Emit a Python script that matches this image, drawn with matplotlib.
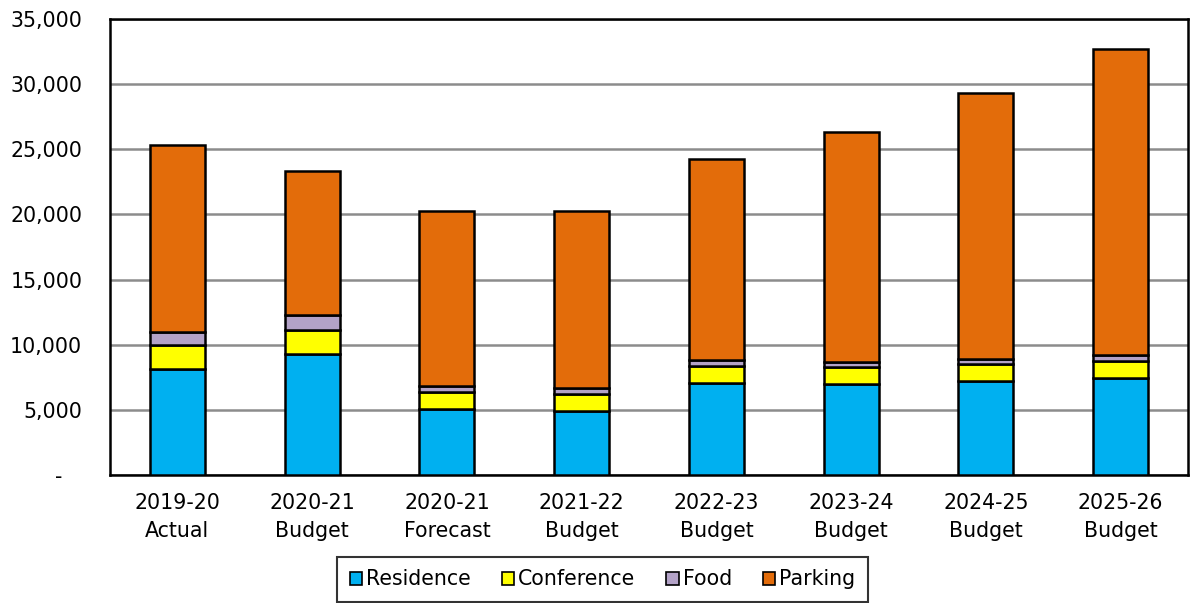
import matplotlib.pyplot as plt
import numpy as np
from matplotlib.ticker import FuncFormatter

# data
categories = ['2019-20\nActual', '2020-21\nBudget', '2020-21\nForecast', '2021-22\nBudget',
              '2022-23\nBudget', '2023-24\nBudget', '2024-25\nBudget', '2025-26\nBudget']
residence = [8160, 9265, 5065, 4935, 7085, 7007, 7214, 7420]
conference = [1790, 1840, 1280, 1255, 1280, 1282, 1305, 1329]
food = [1000, 1150, 485, 487, 460, 383, 407, 461]
parking = [14350, 11100, 13430, 13583, 15450, 17678, 20414, 23460]

series = [('Residence', residence, '#00B0F0'),
          ('Conference', conference, '#FFFF00'),
          ('Food', food, '#B3A2C7'),
          ('Parking', parking, '#E36C0A')]

plt.rcParams['font.family'] = ['DejaVu Sans']
FS = 14.8

fig = plt.figure(figsize=(11.90, 6.03), dpi=100)
ax = fig.add_axes([110 / 1190, 1 - 475 / 603, 1078 / 1190, 456 / 603])

x = np.arange(len(categories))
bottom = np.zeros(len(categories))
for name, vals, color in series:
    ax.bar(x, vals, width=0.41, bottom=bottom, color=color, edgecolor='black',
           linewidth=1.8, label=name, zorder=3)
    bottom += np.array(vals)

ax.set_xlim(-0.5, len(categories) - 0.5)
ax.set_ylim(0, 35000)
ax.set_yticks(np.arange(0, 35001, 5000))
ax.yaxis.set_major_formatter(FuncFormatter(lambda v, p: '-   ' if v == 0 else f'{int(v):,}'))
ax.set_xticks(x)
ax.set_xticklabels(categories, fontsize=FS, linespacing=1.5)
ax.tick_params(axis='y', labelsize=FS, length=0, pad=20)
ax.tick_params(axis='x', length=0, pad=13)

ax.grid(axis='y', color='#8c8c8c', linewidth=1.8, zorder=0)
for s in ax.spines.values():
    s.set_linewidth(1.8)
    s.set_color('black')

leg = ax.legend(loc='upper center', bbox_to_anchor=(0.457, -0.18), ncol=4, fontsize=FS,
                frameon=True, fancybox=False, edgecolor='black', handlelength=0.6,
                handleheight=0.6, handletextpad=0.2, columnspacing=1.5,
                borderpad=0.6, borderaxespad=0)
leg.get_frame().set_linewidth(1.5)
for h in leg.legend_handles:
    h.set_linewidth(1.2)

fig.savefig('out.png', dpi=100)
